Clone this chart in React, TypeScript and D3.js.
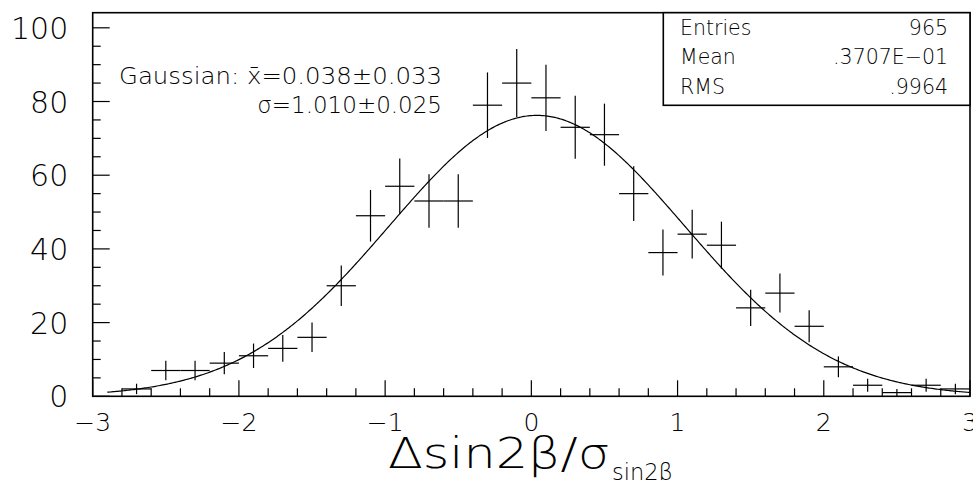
import React from "react";
import * as d3 from "d3";

const binCenters = [-2.9, -2.7, -2.5, -2.3, -2.1, -1.9, -1.7, -1.5, -1.3, -1.1, -0.9, -0.7, -0.5, -0.3, -0.1, 0.1, 0.3, 0.5, 0.7, 0.9, 1.1, 1.3, 1.5, 1.7, 1.9, 2.1, 2.3, 2.5, 2.7, 2.9];
const counts = [0, 2, 7, 7, 9, 11, 13, 16, 30, 49, 57, 53, 53, 79, 85, 81, 73, 71, 55, 39, 44, 41, 24, 28, 19, 8, 3, 1, 3, 2];
const xMajorTicks = [-3, -2, -1, 0, 1, 2, 3];
const xTickLabels = ["\u22123", "\u22122", "\u22121", "0", "1", "2", "3"];
const yMajorTicks = [0, 20, 40, 60, 80, 100];
const yTickLabels = ["0", "20", "40", "60", "80", "100"];
const statLabels = ["Entries", "Mean", "RMS"];
const statValues = ["965", ".3707E\u221201", ".9964"];
const fitMean = 0.038;
const fitSigma = 1.01;
const entries = 965;
const binWidth = 0.2;
const fitLine1 = "Gaussian: x\u0304=0.038\u00b10.033";
const fitLine2 = "\u03c3=1.010\u00b10.025";

const W = 973;
const H = 480;
const L = 92.7, R = 970, T = 12.7, B = 396.3;
const FONT = "'DejaVu Sans', sans-serif";

export default function App() {
  const x = d3.scaleLinear().domain([-3, 3]).range([L, R]);
  const y = d3.scaleLinear().domain([0, 104.1]).range([B, T]);

  const amp = (entries * binWidth) / (fitSigma * Math.sqrt(2 * Math.PI));
  const curvePts = d3.range(-2.9, 3.0001, 0.01).map((v) => [v, amp * Math.exp(-((v - fitMean) ** 2) / (2 * fitSigma * fitSigma))] as [number, number]);
  const line = d3.line<[number, number]>().x((d) => x(d[0])).y((d) => y(d[1]));

  const xMinor = d3.range(-3, 3.0001, 0.2).map((v) => Math.round(v * 10) / 10);
  const yMinor = d3.range(0, 101, 5);

  return (
    <svg width={W} height={H} style={{ position: "absolute", left: 0, top: 0, background: "#fff" }} fontFamily={FONT}>
      <rect x={0} y={0} width={W} height={H} fill="#fff" />
      {/* ticks */}
      {xMinor.map((v, i) => {
        const major = Math.abs(v - Math.round(v)) < 1e-6;
        return <line key={"xt" + i} x1={x(v)} x2={x(v)} y1={B} y2={B - (major ? 16 : 8)} stroke="#000" strokeWidth={1.2} />;
      })}
      {yMinor.map((v, i) => {
        const major = v % 20 === 0;
        return <line key={"yt" + i} x1={L} x2={L + (major ? 17 : 8)} y1={y(v)} y2={y(v)} stroke="#000" strokeWidth={1.2} />;
      })}
      {/* tick labels */}
      {xMajorTicks.map((v, i) => (
        <text key={"xl" + i} x={x(v)} y={431} textAnchor="middle" fontSize={25} fontWeight={200} fill="#000">{xTickLabels[i]}</text>
      ))}
      {yMajorTicks.map((v, i) => (
        <text key={"yl" + i} x={68.3} y={y(v) + 11} textAnchor="end" fontSize={30} fontWeight={200} fill="#000">{yTickLabels[i]}</text>
      ))}
      {/* data */}
      {binCenters.map((c, i) => {
        const n = counts[i];
        if (n <= 0) return null;
        const e = Math.sqrt(n);
        return (
          <g key={"d" + i} stroke="#000" strokeWidth={1.2}>
            <line x1={x(c - binWidth / 2)} x2={x(c + binWidth / 2)} y1={y(n)} y2={y(n)} />
            <line x1={x(c)} x2={x(c)} y1={y(n - e)} y2={y(Math.min(n + e, 104.1))} />
          </g>
        );
      })}
      {/* fit curve */}
      <path d={line(curvePts) || ""} fill="none" stroke="#000" strokeWidth={1.2} />
      {/* frame */}
      <rect x={L} y={T} width={R - L} height={B - T} fill="none" stroke="#000" strokeWidth={1.6} />
      {/* fit text */}
      <text x={119} y={84.3} fontSize={23} fontWeight={200} textLength={323} lengthAdjust="spacingAndGlyphs" fill="#000">{fitLine1}</text>
      <text x={442} y={113} fontSize={23} fontWeight={200} textAnchor="end" fill="#000">{fitLine2}</text>
      {/* stats box */}
      <rect x={663.3} y={T} width={R - 663.3} height={105.3 - T} fill="#fff" stroke="#000" strokeWidth={1.6} />
      {statLabels.map((s, i) => (
        <g key={"s" + i}>
          <text x={680} y={35 + i * 29.3} fontSize={20.5} fontWeight={200} fill="#000">{s}</text>
          <text x={948} y={35 + i * 29.3} fontSize={20.5} fontWeight={200} textAnchor="end" fill="#000">{statValues[i]}</text>
        </g>
      ))}
      {/* axis title */}
      <text x={388} y={468.3} fontSize={42} fontWeight={200} textLength={222} lengthAdjust="spacingAndGlyphs" fill="#000">{"\u0394sin2\u03b2/\u03c3"}</text>
      <text x={612} y={480} fontSize={23} fontWeight={200} textLength={61} lengthAdjust="spacingAndGlyphs" fill="#000">{"sin2\u03b2"}</text>
    </svg>
  );
}
